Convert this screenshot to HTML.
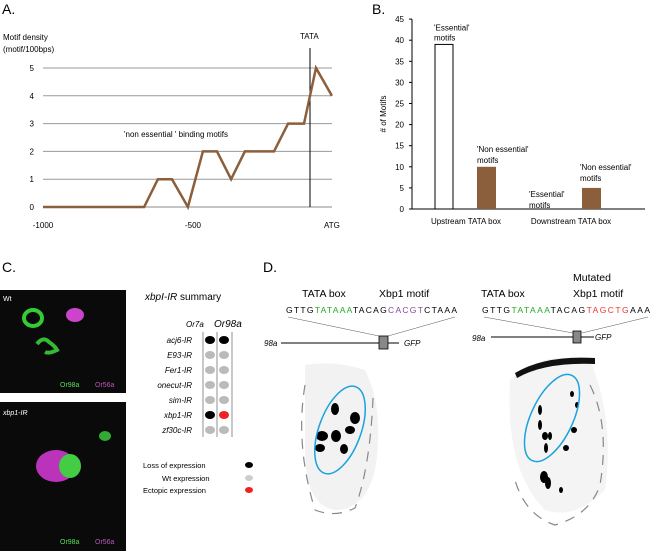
<!DOCTYPE html>
<html><head><meta charset="utf-8"><style>
html,body{margin:0;padding:0;background:#fff;}
svg{display:block;font-family:"Liberation Sans",Arial,sans-serif;}
</style></head><body>
<svg id="fig" width="651" height="551" viewBox="0 0 651 551">
<!-- Panel A -->
<text x="2" y="14" font-size="14">A.</text>
<text x="3" y="40" font-size="8">Motif density</text>
<text x="3" y="52" font-size="8">(motif/100bps)</text>
<g id="aGrid"></g>
<text x="300" y="39" font-size="8">TATA</text>
<text x="124" y="137" font-size="8">'non essential ' binding motifs</text>
<text x="324" y="228" font-size="8">ATG</text>
<g id="aLine"></g>
<!-- Panel B -->
<text x="372" y="14" font-size="14">B.</text>
<text transform="translate(386,114) rotate(-90)" text-anchor="middle" font-size="8"># of Motifs</text>
<g id="bChart"></g>
<!-- Panel C -->
<text x="2" y="272" font-size="14">C.</text>
<g>
<rect x="0" y="290" width="126" height="103" fill="#0a0a0a"/>
<ellipse cx="33" cy="318" rx="9" ry="8" fill="none" stroke="#3c3" stroke-width="4"/>
<ellipse cx="75" cy="315" rx="9" ry="7" fill="#c4c"/>
<path d="M37 344 q6 -8 12 -2 q6 4 8 8 q-8 4 -12 2" fill="none" stroke="#3b3" stroke-width="4"/>
<text x="3" y="301" font-size="7" fill="#fff">Wt</text>
<text x="60" y="387" font-size="7" fill="#5d5">Or98a</text>
<text x="95" y="387" font-size="7" fill="#b5b">Or56a</text>
</g>
<g>
<rect x="0" y="402" width="126" height="149" fill="#0a0a0a"/>
<ellipse cx="56" cy="466" rx="20" ry="16" fill="#b3b"/>
<ellipse cx="70" cy="466" rx="11" ry="12" fill="#4c4"/>
<ellipse cx="105" cy="436" rx="6" ry="5" fill="#3a3"/>
<text x="3" y="415" font-size="7" fill="#fff" font-style="italic">xbp1-IR</text>
<text x="60" y="544" font-size="7" fill="#5d5">Or98a</text>
<text x="95" y="544" font-size="7" fill="#b5b">Or56a</text>
</g>
<text x="145" y="300" font-size="10"><tspan font-style="italic">xbpI-IR</tspan> summary</text>
<text x="186" y="327" font-size="8" font-style="italic">Or7a</text>
<text x="214" y="327" font-size="10" font-style="italic">Or98a</text>
<g id="cTable"></g>
<text x="143" y="468" font-size="7.5">Loss of expression</text>
<text x="162" y="481" font-size="7.5">Wt expression</text>
<text x="143" y="493" font-size="7.5">Ectopic expression</text>
<ellipse cx="249" cy="465" rx="4" ry="3" fill="#000"/>
<ellipse cx="249" cy="478" rx="4" ry="3" fill="#ccc"/>
<ellipse cx="249" cy="490" rx="4" ry="3" fill="#e22"/>
<!-- Panel D -->
<text x="263" y="272" font-size="14">D.</text>
<text x="302" y="297" font-size="10.5">TATA box</text>
<text x="379" y="297" font-size="10.5">Xbp1 motif</text>
<text x="286" y="313" font-size="8.5" textLength="171">GTTG<tspan fill="#2a2">TATAAA</tspan>TACAG<tspan fill="#849">CACGT</tspan>CTAAA</text>
<line x1="288" y1="317" x2="379" y2="336" stroke="#555" stroke-width="0.5"/>
<line x1="455" y1="317" x2="388" y2="336" stroke="#555" stroke-width="0.5"/>
<text x="264" y="346" font-size="8" font-style="italic">98a</text>
<line x1="281" y1="343" x2="399" y2="343" stroke="#000" stroke-width="1"/>
<rect x="379" y="336" width="9" height="13" fill="#888" stroke="#000" stroke-width="0.8"/>
<text x="404" y="346" font-size="8" font-style="italic">GFP</text>
<text x="573" y="281" font-size="10.5">Mutated</text>
<text x="481" y="297" font-size="10.5">TATA box</text>
<text x="573" y="297" font-size="10.5">Xbp1 motif</text>
<text x="482" y="313" font-size="8.5" textLength="168">GTTG<tspan fill="#2a2">TATAAA</tspan>TACAG<tspan fill="#e33">TAGCTG</tspan>AAA</text>
<line x1="484" y1="317" x2="573" y2="333" stroke="#555" stroke-width="0.5"/>
<line x1="648" y1="317" x2="582" y2="333" stroke="#555" stroke-width="0.5"/>
<text x="472" y="341" font-size="8" font-style="italic">98a</text>
<line x1="491" y1="337" x2="594" y2="337" stroke="#000" stroke-width="1"/>
<rect x="573" y="331" width="8" height="12" fill="#888" stroke="#000" stroke-width="0.8"/>
<text x="595" y="340" font-size="8" font-style="italic">GFP</text>
<g>
<path d="M305 365 q30 -5 60 5 q20 40 10 100 q-10 40 -40 40 q-30 -5 -30 -60 z" fill="#f2f2f2"/>
<path d="M305 385 q-10 60 10 125 q20 8 40 -2 q15 -40 18 -110" fill="none" stroke="#888" stroke-width="1.2" stroke-dasharray="10 8"/>
<g fill="#000"><ellipse cx="322" cy="436" rx="6" ry="5"/><ellipse cx="336" cy="436" rx="5" ry="6"/><ellipse cx="350" cy="430" rx="5" ry="4"/><ellipse cx="320" cy="448" rx="5" ry="4"/><ellipse cx="344" cy="449" rx="4" ry="5"/><ellipse cx="355" cy="418" rx="5" ry="6"/><ellipse cx="335" cy="409" rx="4" ry="6"/></g>
<ellipse cx="340" cy="430" rx="21" ry="46" transform="rotate(20 340 430)" fill="none" stroke="#1aa3dd" stroke-width="1.5"/>
</g>
<g>
<path d="M510 380 q30 -30 80 -20 q25 60 15 130 q-30 30 -60 20 q-40 -40 -35 -130 z" fill="#f4f4f4"/>
<path d="M515 373 q30 -18 80 -15 l0 6 q-50 -2 -78 14 z" fill="#111"/>
<path d="M590 385 q20 40 10 100 q-10 30 -45 40 q-30 -10 -40 -45" fill="none" stroke="#888" stroke-width="1.2" stroke-dasharray="10 8"/>
<g fill="#000"><ellipse cx="540" cy="410" rx="2" ry="5"/><ellipse cx="540" cy="425" rx="2" ry="5"/><ellipse cx="545" cy="436" rx="3" ry="4"/><ellipse cx="550" cy="436" rx="2" ry="4"/><ellipse cx="546" cy="448" rx="2" ry="5"/><ellipse cx="566" cy="448" rx="3" ry="3"/><ellipse cx="544" cy="477" rx="4" ry="6"/><ellipse cx="548" cy="483" rx="3" ry="6"/><ellipse cx="572" cy="394" rx="2" ry="3"/><ellipse cx="577" cy="405" rx="2" ry="3"/><ellipse cx="574" cy="430" rx="3" ry="3"/><ellipse cx="561" cy="490" rx="2" ry="3"/></g>
<ellipse cx="552" cy="418" rx="21" ry="47" transform="rotate(25 552 418)" fill="none" stroke="#1aa3dd" stroke-width="1.5"/>
</g>
</svg>
<script>
// Panel A data
const aX = [-1000,-663,-617,-570,-517,-467,-420,-373,-327,-230,-183,-130,-90,-37];
const aY = [0,0,1,1,0,2,2,1,2,2,3,3,5,4];
const aTicksY = [0,1,2,3,4,5];
const aTicksX = [-1000,-500];
const aTata = -110;
// Panel B data
const bCats = ["Upstream TATA box","Downstream TATA box"];
const bEssential = [39,0];
const bNonEssential = [10,5];
const bTicks = [0,5,10,15,20,25,30,35,40,45];
// Panel C data
const cRows = ["acj6-IR","E93-IR","Fer1-IR","onecut-IR","sim-IR","xbp1-IR","zf30c-IR"];
const cOr7a = ["loss","wt","wt","wt","wt","loss","wt"];
const cOr98a = ["loss","wt","wt","wt","wt","ectopic","wt"];

const NS="http://www.w3.org/2000/svg";
function mk(tag,attrs,parent,txt){const e=document.createElementNS(NS,tag);for(const k in attrs)e.setAttribute(k,attrs[k]);if(txt!==undefined)e.textContent=txt;parent.appendChild(e);return e;}

// A axes
const ax=v=>43+(v+1000)*0.3, ay=v=>207-v*27.8;
const ag=document.getElementById('aGrid');
aTicksY.forEach(t=>{
 const l=mk('line',{x1:43,x2:332,y1:ay(t),y2:ay(t),stroke:t===0?'#888':'#999','stroke-width':1},ag);
 
 
 const tx=mk('text',{x:34,y:ay(t)+3,'font-size':8,'text-anchor':'end'},ag,String(t));
 
 
});
aTicksX.forEach(t=>{
 const tx=mk('text',{x:ax(t),y:228,'font-size':8,'text-anchor':'middle'},ag,String(t));
 
 
});
const tl=mk('line',{x1:ax(aTata),x2:ax(aTata),y1:48,y2:207,stroke:'#000','stroke-width':1},ag);


const al=document.getElementById('aLine');
const pl=mk('polyline',{points:aX.map((x,i)=>ax(x)+','+ay(aY[i])).join(' '),fill:'none',stroke:'#8b5e3c','stroke-width':2.5,'stroke-linejoin':'miter'},al);



// B
const bg=document.getElementById('bChart');
const by=v=>209-v*4.22;
mk('line',{x1:412,x2:412,y1:by(45),y2:by(0),stroke:'#000','stroke-width':1},bg);
mk('line',{x1:412,x2:645,y1:by(0),y2:by(0),stroke:'#000','stroke-width':1},bg);
bTicks.forEach(t=>{
 mk('line',{x1:409,x2:412,y1:by(t),y2:by(t),stroke:'#000'},bg);
 const tx=mk('text',{x:404,y:by(t)+3,'font-size':8,'text-anchor':'end'},bg,String(t));
 
 
});
const groupX=[435,540];
bCats.forEach((c,i)=>{
 const x0=groupX[i];
 if(bEssential[i]>0){
  const r=mk('rect',{x:x0,y:by(bEssential[i]),width:18,height:by(0)-by(bEssential[i]),fill:'#fff',stroke:'#000','stroke-width':1},bg);
  
  
 }
 const r2=mk('rect',{x:x0+42,y:by(bNonEssential[i]),width:19,height:by(0)-by(bNonEssential[i]),fill:'#8b5e3c'},bg);
 
 
 const ct=mk('text',{x:x0+31,y:224,'font-size':8,'text-anchor':'middle'},bg,c);
 
 
});
[[434,by(39)-14,"'Essential'"],[434,by(39)-4,"motifs"],[477,by(10)-15,"'Non essential'"],[477,by(10)-4,"motifs"],[529,by(0)-12,"'Essential'"],[529,by(0)-1,"motifs"],[580,by(5)-18,"'Non essential'"],[580,by(5)-7,"motifs"]].forEach(a=>{
 const t=mk('text',{x:a[0],y:a[1],'font-size':8},bg,a[2]);
 
 
});

// C table
const cg=document.getElementById('cTable');
const colors={loss:'#000',wt:'#bbb',ectopic:'#e22'};
[203,217,232].forEach(x=>mk('line',{x1:x,x2:x,y1:332,y2:437,stroke:'#777','stroke-width':0.8},cg));
cRows.forEach((r,i)=>{
 const y=340+i*15;
 const t=mk('text',{x:192,y:y+3,'font-size':8,'font-style':'italic','text-anchor':'end'},cg,r);
 
 
 const d1=mk('ellipse',{cx:210,cy:y,rx:5,ry:4,fill:colors[cOr7a[i]]},cg);
 
 
 const d2=mk('ellipse',{cx:224,cy:y,rx:5,ry:4,fill:colors[cOr98a[i]]},cg);
 
 
});
</script>
</body></html>
